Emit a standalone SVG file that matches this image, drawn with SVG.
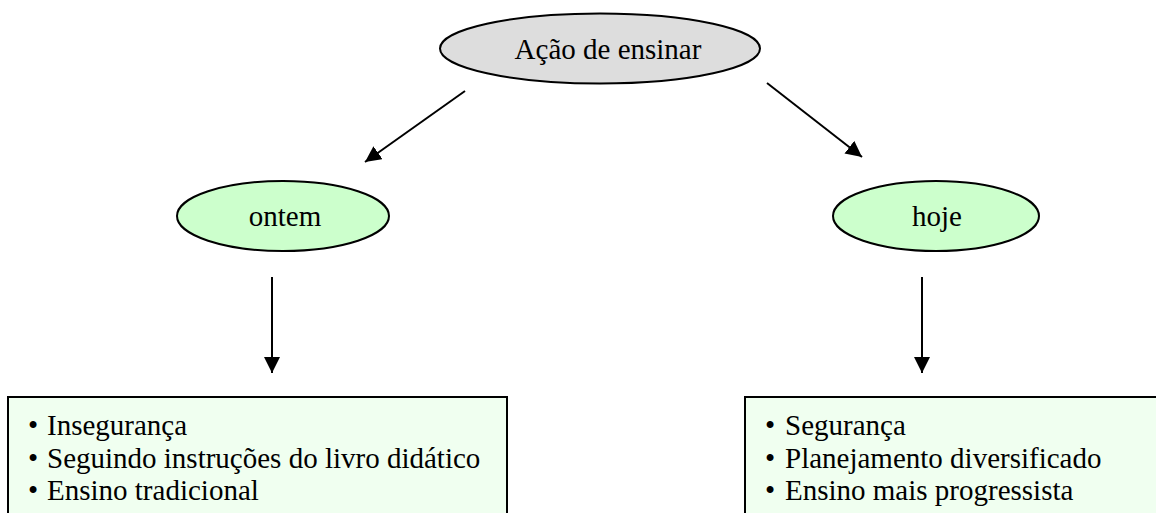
<svg xmlns="http://www.w3.org/2000/svg" width="1156" height="513" viewBox="0 0 1156 513">
<style>
.t{font-family:"Liberation Serif","Times New Roman",serif;font-size:29px;fill:#000}
.e{stroke:#000;stroke-width:2}
.box{fill:#f0fff0;stroke:#000;stroke-width:2}
.c{stroke:#000;stroke-width:2;fill:none;marker-end:url(#ah)}
</style>
<defs>
<marker id="ah" markerUnits="userSpaceOnUse" markerWidth="18" markerHeight="16" refX="16" refY="8" orient="auto" viewBox="0 0 18 16">
<path d="M0,0 L16,8 L0,16 Z" fill="#000"/>
</marker>
</defs>
<rect width="1156" height="513" fill="#fff"/>
<g id="connectors">
<line class="c" x1="465" y1="91" x2="365" y2="162"/>
<line class="c" x1="767" y1="83" x2="862" y2="157"/>
<line class="c" x1="272" y1="277" x2="272" y2="373"/>
<line class="c" x1="922" y1="277" x2="922" y2="373"/>
</g>
<g id="node-acao">
<ellipse class="e" cx="600" cy="48.5" rx="160" ry="35" fill="#dddddd"/>
<text class="t" x="608" y="59" text-anchor="middle">Ação de ensinar</text>
</g>
<g id="node-ontem">
<ellipse class="e" cx="283" cy="216" rx="106" ry="35" fill="#ccffcc"/>
<text class="t" x="285" y="226" text-anchor="middle">ontem</text>
</g>
<g id="node-hoje">
<ellipse class="e" cx="936" cy="216" rx="103" ry="35" fill="#ccffcc"/>
<text class="t" x="937" y="226" text-anchor="middle">hoje</text>
</g>
<g id="node-ontem-list">
<rect class="box" x="8" y="397" width="499" height="130"/>
<text class="t"><tspan x="28" y="435">•</tspan><tspan x="47" y="435">Insegurança</tspan><tspan x="28" y="468">•</tspan><tspan x="47" y="468">Seguindo instruções do livro didático</tspan><tspan x="28" y="500">•</tspan><tspan x="47" y="500">Ensino tradicional</tspan></text>
</g>
<g id="node-hoje-list">
<rect class="box" x="745" y="397" width="430" height="130"/>
<text class="t"><tspan x="765" y="435">•</tspan><tspan x="785" y="435">Segurança</tspan><tspan x="765" y="468">•</tspan><tspan x="785" y="468">Planejamento diversificado</tspan><tspan x="765" y="500">•</tspan><tspan x="785" y="500">Ensino mais progressista</tspan></text>
</g>
</svg>
